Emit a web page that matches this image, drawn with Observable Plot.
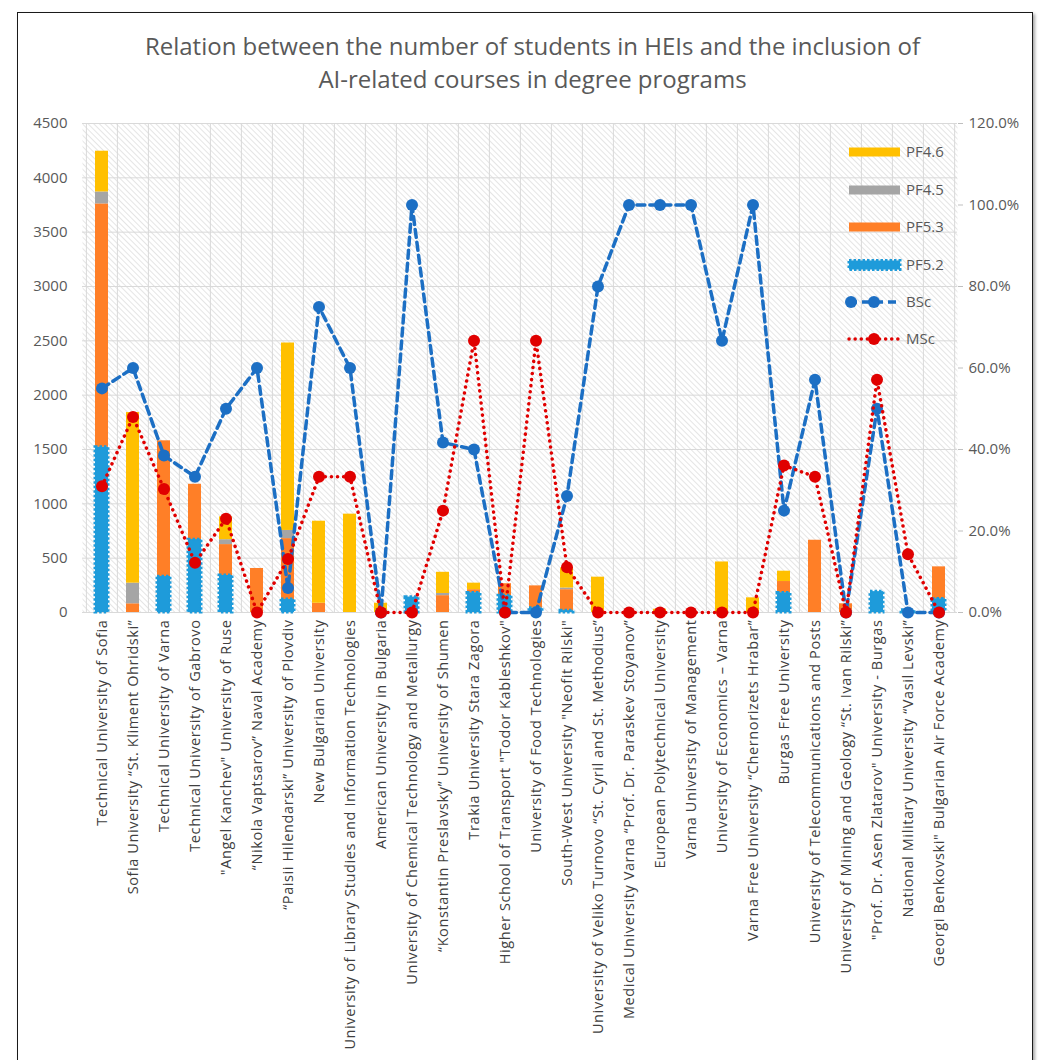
<!DOCTYPE html>
<html>
<head>
<meta charset="utf-8">
<script src="https://cdn.jsdelivr.net/npm/d3@7"></script>
<script src="https://cdn.jsdelivr.net/npm/@observablehq/plot@0.6"></script>
<style>
  body { margin: 0; background: #fff; font-family: "Open Sans", sans-serif; }
  #title { height: 110px; box-sizing: border-box; padding-top: 29px; padding-left: 18px; text-align: center;
           font-size: 24px; line-height: 33px; color: #595959; width: 1047px; }
  #frame { position: absolute; left: 17px; top: 12px; width: 1014px; height: 1100px; border: 1.5px solid #1a1a1a;
           box-shadow: 2px 2px 3px rgba(0,0,0,0.35); pointer-events: none; }
  #chart svg g[aria-label="x-axis tick label"] text { letter-spacing: 0.6px; }
</style>
</head>
<body>
<div id="frame"></div>
<div id="title">Relation between the number of students in HEIs and the inclusion of<br>AI-related courses in degree programs</div>
<div id="chart"></div>
<script>
const categories = [
  "Technical University of Sofia",
  "Sofia University “St. Kliment Ohridski”",
  "Technical University of Varna",
  "Technical University of Gabrovo",
  "\"Angel Kanchev\" University of Ruse",
  "“Nikola Vaptsarov” Naval Academy",
  "“Paisii Hilendarski” University of Plovdiv",
  "New Bulgarian University",
  "University of Library Studies and Information Technologies",
  "American University in Bulgaria",
  "University of Chemical Technology and Metallurgy",
  "“Konstantin Preslavsky” University of Shumen",
  "Trakia University Stara Zagora",
  "Higher School of Transport \"Todor Kableshkov\"",
  "University of Food Technologies",
  "South-West University \"Neofit Rilski\"",
  "University of Veliko Turnovo “St. Cyril and St. Methodius”",
  "Medical University Varna “Prof. Dr. Paraskev Stoyanov”",
  "European Polytechnical University",
  "Varna University of Management",
  "University of Economics – Varna",
  "Varna Free University “Chernorizets Hrabar”",
  "Burgas Free University",
  "University of Telecommunications and Posts",
  "University of Mining and Geology “St. Ivan Rilski”",
  "\"Prof. Dr. Asen Zlatarov\" University - Burgas",
  "National Military University “Vasil Levski”",
  "Georgi Benkovski\" Bulgarian Air Force Academy"
];
const seriesNames = ["PF5.2", "PF5.3", "PF4.5", "PF4.6"];
const pf52 = [1520, 0, 330, 670, 340, 0, 120, 0, 0, 0, 140, 0, 180, 155, 40, 15, 0, 0, 0, 0, 0, 0, 180, 0, 0, 190, 20, 125];
const pf53 = [2240, 80, 1250, 510, 285, 405, 560, 85, 0, 0, 0, 155, 30, 110, 205, 195, 0, 0, 0, 0, 0, 0, 105, 665, 80, 0, 0, 295];
const pf45 = [110, 190, 0, 0, 45, 0, 75, 0, 0, 0, 0, 20, 0, 0, 0, 15, 0, 0, 0, 0, 0, 0, 0, 0, 0, 0, 0, 0];
const pf46 = [375, 1570, 0, 0, 210, 0, 1725, 755, 905, 85, 0, 195, 60, 0, 0, 185, 325, 0, 30, 0, 465, 135, 95, 0, 0, 0, 0, 0];
const bscPct = [55, 60, 38.5, 33.3, 50, 60, 6, 75, 60, 0, 100, 41.7, 40, 0, 0, 28.6, 80, 100, 100, 100, 66.7, 100, 25, 57.1, 0, 50, 0, 0];
const mscPct = [31, 48, 30.3, 12.2, 23, 0, 13.1, 33.3, 33.3, 0, 0, 25, 66.7, 0, 66.7, 11.1, 0, 0, 0, 0, 0, 0, 36.1, 33.3, 0, 57.1, 14.3, 0];
const leftTicks = [0, 500, 1000, 1500, 2000, 2500, 3000, 3500, 4000, 4500];
const rightTicksPct = [0, 20, 40, 60, 80, 100, 120];

const colors = {"PF5.2": "#1E9BDA", "PF5.3": "#FF7F27", "PF4.5": "#A5A5A5", "PF4.6": "#FFC000"};
const bscColor = "#1C6FC4", mscColor = "#E00000";

const yMax = 4500, pctMax = 120, k = yMax / pctMax;
const seriesArrays = [pf52, pf53, pf45, pf46];
const tidy = [];
categories.forEach((c, i) => seriesNames.forEach((s, j) => {
  if (seriesArrays[j][i] > 0) tidy.push({cat: c, series: s, value: seriesArrays[j][i]});
}));
const blueOnly = tidy.filter(d => d.series === "PF5.2");
const bsc = categories.map((c, i) => ({cat: c, v: bscPct[i]}));
const msc = categories.map((c, i) => ({cat: c, v: mscPct[i]}));

const W = 1047, ML = 82, MR = 90;
const step = (W - ML - MR) / categories.length;

const chart = Plot.plot({
  width: W, height: 942,
  marginLeft: ML, marginRight: MR, marginTop: 13, marginBottom: 440,
  style: {fontFamily: "'Open Sans', sans-serif", fontSize: "14px", color: "#595959", background: "transparent"},
  x: {domain: categories, paddingInner: 0.59, paddingOuter: 0.295, label: null},
  y: {domain: [0, yMax], label: null},
  color: {domain: seriesNames, range: seriesNames.map(s => colors[s])},
  marks: [
    Plot.frame({fill: "url(#hatch)", stroke: "none"}),
    Plot.gridY({ticks: leftTicks, stroke: "#d9d9d9", strokeOpacity: 1, strokeWidth: 1}),
    Plot.ruleX(categories, {x: d => d, dx: -step / 2, stroke: "#d9d9d9", strokeWidth: 1}),
    Plot.ruleX([categories[categories.length - 1]], {x: d => d, dx: step / 2, stroke: "#d9d9d9", strokeWidth: 1}),
    Plot.ruleY([0], {stroke: "#d9d9d9"}),
    Plot.barY(tidy, {x: "cat", y: "value", fill: "series", z: "series", order: seriesNames}),
    Plot.barY(blueOnly, {x: "cat", y: "value", fill: colors["PF5.2"], stroke: colors["PF5.2"], strokeWidth: 3, strokeDasharray: "2.5,2"}),
    Plot.line(bsc, {x: "cat", y: d => d.v * k, stroke: bscColor, strokeWidth: 3.5, strokeDasharray: "8,5"}),
    Plot.dot(bsc, {x: "cat", y: d => d.v * k, r: 6, fill: bscColor}),
    Plot.line(msc, {x: "cat", y: d => d.v * k, stroke: mscColor, strokeWidth: 3.5, strokeDasharray: "0.1,6", strokeLinecap: "round"}),
    Plot.dot(msc, {x: "cat", y: d => d.v * k, r: 6, fill: mscColor}),
    Plot.axisY({ticks: leftTicks, tickFormat: d => String(d), tickSize: 0, tickPadding: 15, fontSize: 15, label: null}),
    Plot.axisY({anchor: "right", ticks: rightTicksPct.map(p => p * k), tickFormat: v => (v / k).toFixed(1) + "%", tickSize: 5, tickPadding: 6, stroke: "#bfbfbf", fontSize: 15, label: null}),
    Plot.axisX({tickRotate: -90, tickSize: 0, tickPadding: 7, fontSize: 14.5, label: null, fill: "#404040"})
  ]
});

// hatch pattern defs
const svg = d3.select(chart);
const defs = svg.insert("defs", ":first-child");
const pat = defs.append("pattern").attr("id", "hatch").attr("width", 4).attr("height", 4)
  .attr("patternUnits", "userSpaceOnUse").attr("patternTransform", "rotate(-45)");
pat.append("rect").attr("width", 4).attr("height", 4).attr("fill", "#ffffff");
pat.append("line").attr("x1", 0).attr("y1", 0).attr("x2", 0).attr("y2", 4).attr("stroke", "#d4d4d4").attr("stroke-width", 1.2);

// legend inside the plot area
const lg = svg.append("g").attr("font-family", "'Open Sans', sans-serif").attr("font-size", 15)
  .attr("fill", "#595959").attr("text-anchor", "start");
const x0 = 849, x1 = 900, tx = 906;
const legendRows = [
  {name: "PF4.6", type: "bar", color: colors["PF4.6"]},
  {name: "PF4.5", type: "bar", color: colors["PF4.5"]},
  {name: "PF5.3", type: "bar", color: colors["PF5.3"]},
  {name: "PF5.2", type: "blue", color: colors["PF5.2"]},
  {name: "BSc", type: "bsc", color: bscColor},
  {name: "MSc", type: "msc", color: mscColor}
];
const rowY = [42, 80, 117, 155, 192, 229];
legendRows.forEach((r, i) => {
  const y = rowY[i];
  if (r.type === "bar") {
    lg.append("rect").attr("x", x0).attr("y", y - 4.5).attr("width", x1 - x0).attr("height", 9).attr("fill", r.color);
  } else if (r.type === "blue") {
    lg.append("rect").attr("x", x0).attr("y", y - 4.5).attr("width", x1 - x0).attr("height", 9).attr("fill", r.color)
      .attr("stroke", r.color).attr("stroke-width", 3).attr("stroke-dasharray", "2.5,2");
  } else if (r.type === "bsc") {
    lg.append("line").attr("x1", x0).attr("x2", x1).attr("y1", y).attr("y2", y).attr("stroke", r.color)
      .attr("stroke-width", 3.5).attr("stroke-dasharray", "8,5");
    lg.append("circle").attr("cx", x0 + 2).attr("cy", y).attr("r", 6).attr("fill", r.color);
    lg.append("circle").attr("cx", x0 + 25).attr("cy", y).attr("r", 6).attr("fill", r.color);
  } else {
    lg.append("line").attr("x1", x0).attr("x2", x1).attr("y1", y).attr("y2", y).attr("stroke", r.color)
      .attr("stroke-width", 3.5).attr("stroke-dasharray", "0.1,6").attr("stroke-linecap", "round");
    lg.append("circle").attr("cx", x0 + 25).attr("cy", y).attr("r", 6).attr("fill", r.color);
  }
  lg.append("text").attr("x", tx).attr("y", y).attr("dy", "0.35em").text(r.name);
});

document.getElementById("chart").appendChild(chart);
</script>
</body>
</html>
